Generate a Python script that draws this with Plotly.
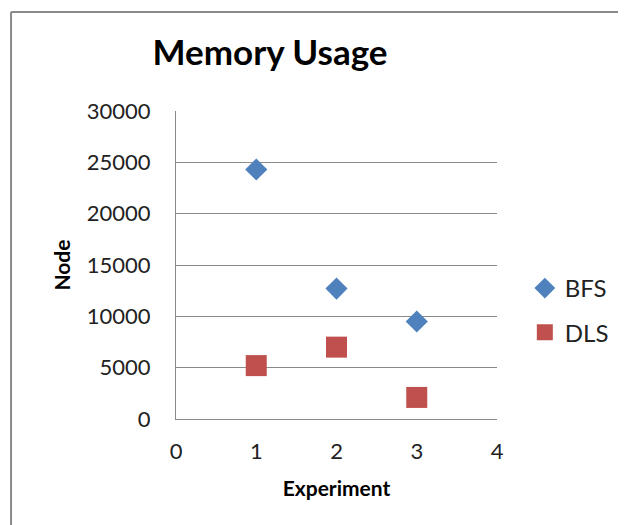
import plotly.graph_objects as go

experiments = [1, 2, 3]
bfs_nodes = [24300, 12700, 9500]
dls_nodes = [5200, 7000, 2100]
y_ticks = [0, 5000, 10000, 15000, 20000, 25000, 30000]
x_ticks = [0, 1, 2, 3, 4]

# page body has an 8px margin; work in reference pixel coords and subtract it
OFF = 8
W, H = 626 - OFF, 525 - OFF
PL, PR, PT, PB = 176, 499, 111, 419  # plot area in reference pixels
L, T = PL - OFF, PT - OFF
R, B = W - (PR - OFF), H - (PB - OFF)
pw = PR - PL
ph = PB - PT

def px_to_paper_x(px):
    return (px - PL) / pw

def px_to_paper_y(py):
    return (PB - py) / ph

FONT = "Lato"
FRAME = dict(color="#8a8a8a", width=2)

fig = go.Figure()
fig.add_trace(go.Scatter(
    x=experiments, y=bfs_nodes, mode="markers", name="BFS",
    legendgroup="a",
    marker=dict(symbol="diamond", size=17, color="#4F81BD"),
))
fig.add_trace(go.Scatter(
    x=experiments, y=dls_nodes, mode="markers", name="DLS",
    legendgroup="b",
    marker=dict(symbol="square", size=21, color="#C0504D"),
))

fig.update_layout(
    width=W, height=H,
    margin=dict(l=L, r=R, t=T, b=B, pad=0),
    paper_bgcolor="white", plot_bgcolor="white",
    font=dict(family=FONT, color="#222222"),
    title=dict(text="<b>Memory Usage</b>", x=(270 - OFF) / W, xref="container", xanchor="center",
               y=1 - (53 - OFF) / H, yref="container", yanchor="middle",
               font=dict(size=35, color="black", family=FONT)),
    showlegend=True,
    legend=dict(x=px_to_paper_x(527), y=px_to_paper_y(266), xanchor="left", yanchor="top",
                font=dict(size=24, color="#222222", family=FONT),
                traceorder="grouped", tracegroupgap=10, bgcolor="rgba(0,0,0,0)"),
    shapes=[
        dict(type="line", xref="paper", yref="paper",
             x0=px_to_paper_x(10), x1=px_to_paper_x(640),
             y0=px_to_paper_y(12), y1=px_to_paper_y(12), line=FRAME, layer="below"),
        dict(type="line", xref="paper", yref="paper",
             x0=px_to_paper_x(10), x1=px_to_paper_x(10),
             y0=px_to_paper_y(12), y1=px_to_paper_y(560), line=FRAME, layer="below"),
    ],
)

fig.update_xaxes(
    range=[0, 4], tickvals=x_ticks, ticktext=[str(v) for v in x_ticks],
    showgrid=False, zeroline=False, showline=True, linecolor="#8a8a8a", linewidth=1,
    ticks="", ticklabelstandoff=13,
    tickfont=dict(size=22, color="#222222", family=FONT),
    title=dict(text="<b>Experiment</b>", font=dict(size=21, color="black", family=FONT), standoff=17),
)
fig.update_yaxes(
    range=[0, 30000], tickvals=y_ticks, ticktext=[str(v) for v in y_ticks],
    showgrid=True, gridcolor="#8a8a8a", gridwidth=1,
    zeroline=False, showline=True, linecolor="#8a8a8a", linewidth=1,
    ticks="", ticklabelstandoff=20,
    tickfont=dict(size=22, color="#222222", family=FONT),
    title=dict(text="<b>Node</b>", font=dict(size=21, color="black", family=FONT), standoff=10),
)

fig.write_html("out.html")
